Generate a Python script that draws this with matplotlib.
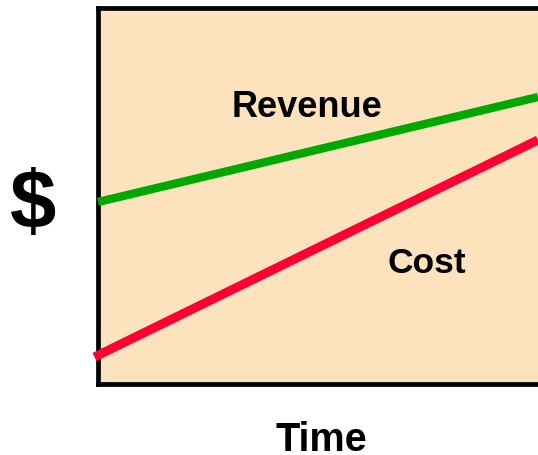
import numpy as np
import matplotlib
matplotlib.use("Agg")
import matplotlib.pyplot as plt

plt.rcParams['font.family'] = ['Liberation Sans', 'DejaVu Sans']

# data (arbitrary units)
time_rev = [0.0, 1.0]
revenue = [182, 287]
time_cost = [-0.008, 1.0]
cost = [27, 244]

W, H = 538, 455
fig = plt.figure(figsize=(W/100, H/100), dpi=100)

# axes box in pixels: left 98, right 538, top 7.5, bottom 384
ax = fig.add_axes([98/W, (H-384)/H, (538-98)/W, (384-7.5)/H])
ax.set_facecolor('#FCE3BD')
ax.set_xlim(0, 1)
ax.set_ylim(0, 376.5)
ax.set_xticks([])
ax.set_yticks([])
for s in ['left', 'top', 'bottom']:
    ax.spines[s].set_linewidth(3.4)
    ax.spines[s].set_color('black')
ax.spines['right'].set_visible(False)

ax.plot(time_rev, revenue, color='#00A800', linewidth=6.0, solid_capstyle='butt', clip_on=False, zorder=3)
ax.plot(time_cost, cost, color='#FF0033', linewidth=6.5, solid_capstyle='butt', clip_on=False, zorder=3)

def px_text(x, y, s, size):
    fig.text(x/W, 1 - y/H, s, fontsize=size, fontweight='bold', ha='center', va='baseline')

px_text(307, 117, 'Revenue', 26)
px_text(427, 273, 'Cost', 25.5)
px_text(321, 451, 'Time', 28.5)
px_text(33, 229, '$', 60)

plt.savefig('out.png', dpi=100)
